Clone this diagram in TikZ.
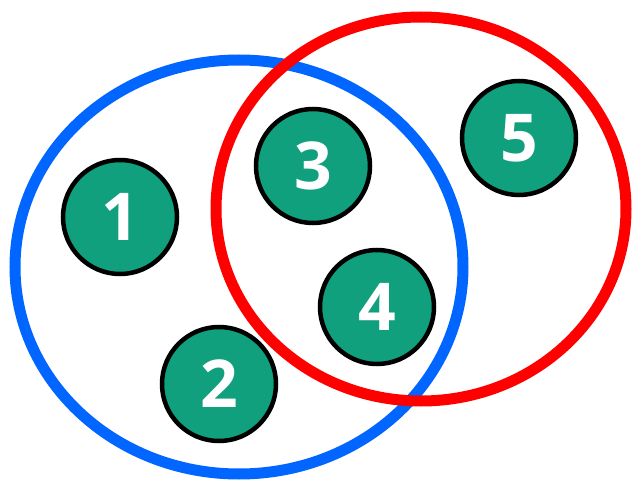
\documentclass[tikz,border=0pt]{standalone}
\usepackage{fontspec}
\setmainfont{Open Sans}
\usepackage{xcolor}
\usepackage{tikz}
\definecolor{setblue}{RGB}{0,102,255}
\definecolor{setred}{RGB}{255,0,0}
\definecolor{elemgreen}{RGB}{16,160,126}

\begin{document}
\begin{tikzpicture}[
  x=1pt,y=-1pt,
  setring/.style={line width=11pt},
  elem/.style={circle,draw=black,line width=4.5pt,fill=elemgreen,
    minimum size=114pt,inner sep=0pt,text=white,
    font=\fontsize{66}{66}\selectfont\bfseries}
]
\useasboundingbox (0,0) rectangle (633,484);
% the two sets
\draw[setring,setblue] (239,267) ellipse [x radius=224, y radius=207];
\draw[setring,setred] (421,209) ellipse [x radius=205, y radius=192];
% elements
\node[elem] (e1) at (120,217) {1};
\node[elem] (e2) at (219,384) {2};
\node[elem] (e3) at (313,166) {3};
\node[elem] (e4) at (377,307) {4};
\node[elem] (e5) at (519,138) {5};
\end{tikzpicture}
\end{document}
